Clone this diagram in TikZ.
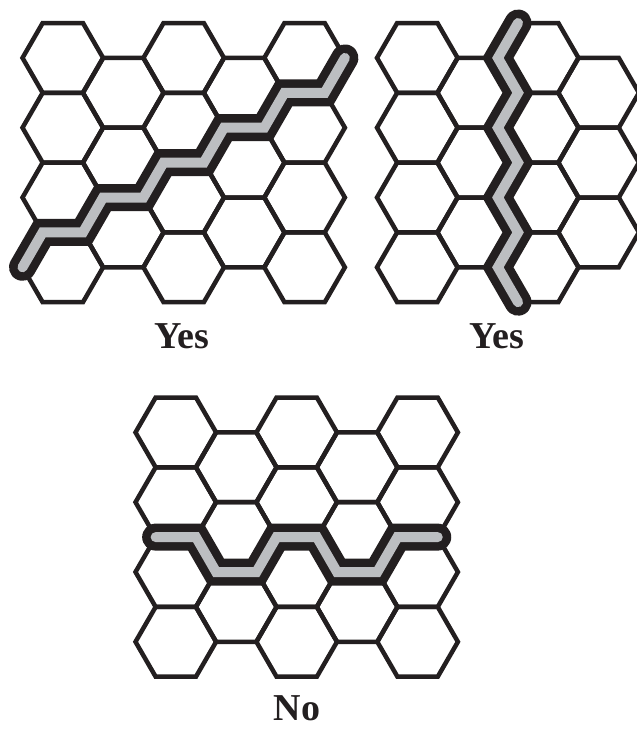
\documentclass[tikz,border=0pt]{standalone}
\usepackage{fontspec}
\setmainfont{Liberation Serif}
\usepackage{tikz}
\usepackage{xcolor}
\definecolor{inkblack}{RGB}{35,31,32}
\definecolor{trackgray}{RGB}{188,190,193}

\begin{document}
\begin{tikzpicture}[x=1pt, y=-1pt,
    hexedge/.style={draw=inkblack, line width=4.5pt, line join=miter},
    track/.style={draw=trackgray, line width=10pt, line cap=round, line join=miter,
        preaction={draw=inkblack, line width=27pt, line cap=round, line join=miter}},
    verdict/.style={font=\bfseries\fontsize{38}{40}\selectfont, text=inkblack, anchor=base, inner sep=0pt}]
    \useasboundingbox (0,0) rectangle (637,729);
    \def\s{40.3}
    \def\h{34.9}

    % Hexagon boards (left vertex x, top y, last column)
    \foreach \gx/\gy/\last in {22.5/23/4, 377/23/3, 135.5/397.5/4} {
        \foreach \c in {0,...,\last} {
            \pgfmathsetmacro{\cx}{\gx + \s + 1.5*\s*\c}
            \pgfmathtruncatemacro{\odd}{mod(\c,2)}
            \pgfmathtruncatemacro{\nrow}{4-\odd}
            \foreach \r in {1,...,\nrow} {
                \pgfmathsetmacro{\cy}{\gy + \h*(2*\r - 1 + \odd)}
                \draw[hexedge] (\cx,\cy) +(\s,0) -- +(\s/2,\h) -- +(-\s/2,\h)
                    -- +(-\s,0) -- +(-\s/2,-\h) -- +(\s/2,-\h) -- cycle;
            }
        }
    }

    % Winning chains
    \coordinate (startA) at (22.5, 23+7*\h);
    \draw[track] (startA) \foreach \k in {1,...,5} { -- ++(\s/2,-\h) -- ++(\s,0) } -- ++(\s/2,-\h);

    \coordinate (startB) at (377+3.5*\s, 23);
    \draw[track] (startB) \foreach \k in {1,...,4} { -- ++(-\s/2,\h) -- ++(\s/2,\h) };

    % Chain that does not connect
    \coordinate (startC) at (135.5+\s/2, 397.5+4*\h);
    \draw[track] (startC) -- ++(\s,0) \foreach \d in {1,-1,1,-1} { -- ++(\s/2,\d*\h) -- ++(\s,0) };

    % Labels
    \node[verdict] (yesA) at (182,348) {Yes};
    \node[verdict] (yesB) at (497,348) {Yes};
    \node[verdict] (no) at (297,720) {No};
\end{tikzpicture}
\end{document}
